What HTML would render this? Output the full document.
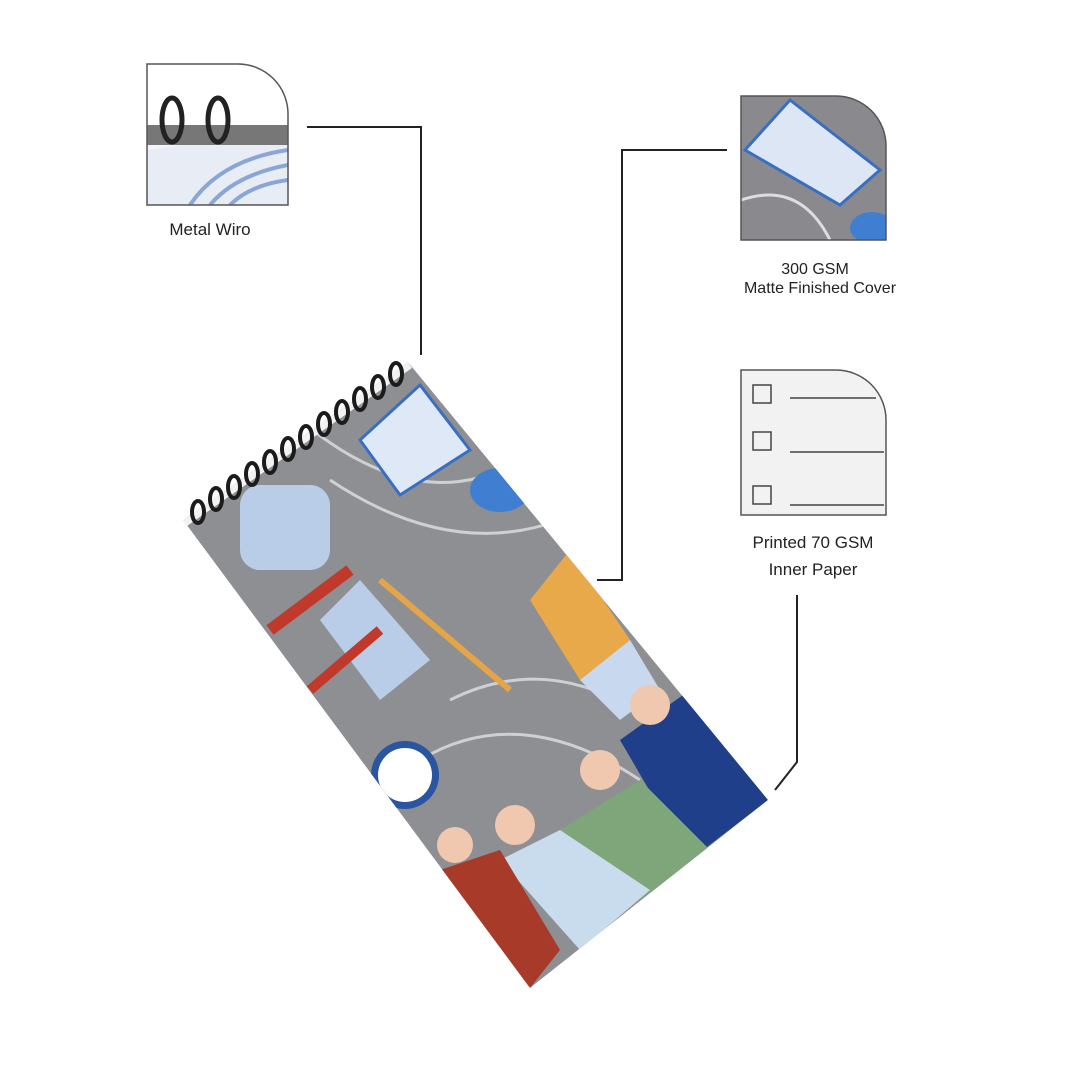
<!DOCTYPE html>
<html><head><meta charset="utf-8"><style>
html,body{margin:0;padding:0;background:#fff;}
svg{display:block}
text{font-family:"Liberation Sans",sans-serif;font-size:18px;fill:#222;text-anchor:middle}
</style></head><body>
<svg width="1080" height="1080" viewBox="0 0 1080 1080">
<defs>
<clipPath id="nb"><polygon points="183,520 408,362 768,800 530,988"/></clipPath>
<clipPath id="t1"><path d="M147,64 H238 A50,50 0 0 1 288,114 V205 H147 Z"/></clipPath>
<clipPath id="t2"><path d="M741,96 H836 A50,50 0 0 1 886,146 V240 H741 Z"/></clipPath>
</defs>
<g fill="none" stroke="#222" stroke-width="2">
<polyline points="307,127 421,127 421,355"/>
<polyline points="727,150 622,150 622,580 597,580"/>
<polyline points="797,595 797,762 775,790"/>
</g>
<g clip-path="url(#t1)">
<rect x="147" y="64" width="141" height="141" fill="#f4f4f6"/>
<rect x="147" y="64" width="141" height="70" fill="#fff"/>
<polygon points="147,150 288,130 288,205 147,205" fill="#e8ecf5"/>
<path d="M190,205 Q220,160 288,150" stroke="#8aa6d6" stroke-width="4" fill="none"/>
<path d="M210,205 Q235,175 288,165" stroke="#8aa6d6" stroke-width="4" fill="none"/>
<path d="M230,205 Q250,185 288,180" stroke="#8aa6d6" stroke-width="4" fill="none"/>
<rect x="147" y="125" width="141" height="20" fill="#777"/>
<ellipse cx="172" cy="120" rx="10" ry="22" fill="none" stroke="#222" stroke-width="5"/>
<ellipse cx="218" cy="120" rx="10" ry="22" fill="none" stroke="#222" stroke-width="5"/>
</g>
<path d="M147,64 H238 A50,50 0 0 1 288,114 V205 H147 Z" fill="none" stroke="#555" stroke-width="1.5"/>
<text x="210" y="235" style="font-size:17px">Metal Wiro</text>
<g clip-path="url(#t2)">
<rect x="741" y="96" width="145" height="144" fill="#8a8a8e"/>
<path d="M741,200 Q800,180 830,240" stroke="#ddd" stroke-width="3" fill="none"/>
<polygon points="745,150 790,100 880,170 840,205" fill="#dce6f5" stroke="#3a6fc0" stroke-width="3"/>
<ellipse cx="872" cy="228" rx="22" ry="16" fill="#3f7ed0"/>
</g>
<path d="M741,96 H836 A50,50 0 0 1 886,146 V240 H741 Z" fill="none" stroke="#555" stroke-width="1.5"/>
<text x="815" y="274" style="font-size:16px">300 GSM</text>
<text x="820" y="293" style="font-size:16px">Matte Finished Cover</text>
<path d="M741,370 H836 A50,50 0 0 1 886,420 V515 H741 Z" fill="#f2f2f2" stroke="#555" stroke-width="1.5"/>
<g fill="none" stroke="#444" stroke-width="1.5">
<rect x="753" y="385" width="18" height="18"/><line x1="790" y1="398" x2="876" y2="398"/>
<rect x="753" y="432" width="18" height="18"/><line x1="790" y1="452" x2="884" y2="452"/>
<rect x="753" y="486" width="18" height="18"/><line x1="790" y1="505" x2="884" y2="505"/>
</g>
<text x="813" y="548" style="font-size:17px">Printed 70 GSM</text>
<text x="813" y="575" style="font-size:17px">Inner Paper</text>
<g clip-path="url(#nb)">
<polygon points="183,520 408,362 768,800 530,988" fill="#8e8f93"/>
<g fill="none" stroke="#cfd0d4" stroke-width="3">
<path d="M300,420 Q420,520 520,460"/><path d="M330,480 Q450,560 560,520"/>
<path d="M450,700 Q550,650 650,720"/><path d="M420,760 Q520,700 640,780"/>
</g>
<polygon points="360,440 420,385 470,450 400,495" fill="#dfe8f6" stroke="#3a6fc0" stroke-width="3"/>
<rect x="240" y="485" width="90" height="85" rx="20" fill="#b9cde8"/>
<polygon points="530,600 570,550 630,640 580,680" fill="#e8a94a"/>
<polygon points="580,680 630,640 660,690 620,720" fill="#c8d8ee"/>
<ellipse cx="500" cy="490" rx="30" ry="22" fill="#3f7ed0"/>
<polygon points="320,620 360,580 430,660 380,700" fill="#b9cde8"/>
<path d="M270,630 L350,570" stroke="#c0392b" stroke-width="12"/>
<path d="M310,690 L380,630" stroke="#c0392b" stroke-width="10"/>
<line x1="380" y1="580" x2="510" y2="690" stroke="#e3a548" stroke-width="6"/>
<circle cx="405" cy="775" r="34" fill="#2a55a0"/><circle cx="405" cy="775" r="27" fill="#fff"/>
<polygon points="620,740 690,690 768,800 690,860" fill="#1f3f8a"/>
<polygon points="560,830 640,780 710,850 640,900" fill="#7ea67a"/>
<polygon points="500,860 560,830 650,890 580,950" fill="#c9dcee"/>
<polygon points="440,870 500,850 560,950 530,988 460,960" fill="#a83a2a"/>
<circle cx="650" cy="705" r="20" fill="#f0c8b0"/><circle cx="600" cy="770" r="20" fill="#f0c8b0"/>
<circle cx="515" cy="825" r="20" fill="#f0c8b0"/><circle cx="455" cy="845" r="18" fill="#f0c8b0"/>
<polygon points="183,520 408,362 412,368 187,526" fill="#f2f2f2"/>
</g>
<g fill="none" stroke="#1b1b1b" stroke-width="4">
<ellipse cx="198" cy="512" rx="6" ry="11"/><ellipse cx="216" cy="499" rx="6" ry="11"/><ellipse cx="234" cy="487" rx="6" ry="11"/>
<ellipse cx="252" cy="474" rx="6" ry="11"/><ellipse cx="270" cy="462" rx="6" ry="11"/><ellipse cx="288" cy="449" rx="6" ry="11"/>
<ellipse cx="306" cy="437" rx="6" ry="11"/><ellipse cx="324" cy="424" rx="6" ry="11"/><ellipse cx="342" cy="412" rx="6" ry="11"/>
<ellipse cx="360" cy="399" rx="6" ry="11"/><ellipse cx="378" cy="387" rx="6" ry="11"/><ellipse cx="396" cy="374" rx="6" ry="11"/>
</g>
</svg>
</body></html>
